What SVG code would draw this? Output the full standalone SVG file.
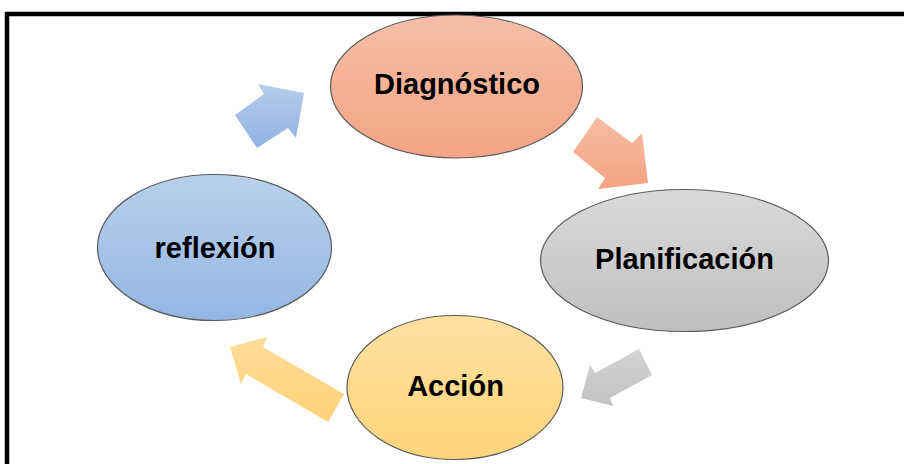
<svg xmlns="http://www.w3.org/2000/svg" width="904" height="464" viewBox="0 0 904 464">
  <defs>
    <linearGradient id="gSalmon" x1="0" y1="0" x2="0" y2="1">
      <stop offset="0" stop-color="#f5bea7"/>
      <stop offset="1" stop-color="#f4a485"/>
    </linearGradient>
    <linearGradient id="gGrey" x1="0" y1="0" x2="0" y2="1">
      <stop offset="0" stop-color="#dadada"/>
      <stop offset="1" stop-color="#bfbfbf"/>
    </linearGradient>
    <linearGradient id="gBlue" x1="0" y1="0" x2="0" y2="1">
      <stop offset="0" stop-color="#b9d0ec"/>
      <stop offset="1" stop-color="#93b7e3"/>
    </linearGradient>
    <linearGradient id="gYellow" x1="0" y1="0" x2="0" y2="1">
      <stop offset="0" stop-color="#ffe1a0"/>
      <stop offset="1" stop-color="#ffd47b"/>
    </linearGradient>
    <linearGradient id="aBlue" x1="0" y1="0" x2="0" y2="1">
      <stop offset="0" stop-color="#b6cdeb"/>
      <stop offset="1" stop-color="#8fb3e2"/>
    </linearGradient>
    <linearGradient id="aSalmon" x1="0" y1="0" x2="0" y2="1">
      <stop offset="0" stop-color="#f6bda5"/>
      <stop offset="1" stop-color="#f5a283"/>
    </linearGradient>
    <linearGradient id="aGrey" x1="0" y1="0" x2="0" y2="1">
      <stop offset="0" stop-color="#d4d4d4"/>
      <stop offset="1" stop-color="#c2c2c2"/>
    </linearGradient>
    <linearGradient id="aYellow" x1="0" y1="0" x2="0" y2="1">
      <stop offset="0" stop-color="#ffdc98"/>
      <stop offset="1" stop-color="#ffd27a"/>
    </linearGradient>
  </defs>
  <style>
    .node ellipse { stroke: #5a5a5a; stroke-width: 1.2; }
    .node text { font-family: "Liberation Sans", Arial, sans-serif; font-weight: bold; font-size: 29px; fill: #000; text-anchor: middle; }
  </style>

  <rect width="904" height="464" fill="#ffffff"/>
  <!-- outer frame (continues past the right and bottom edges) -->
  <rect x="7" y="14" width="1000" height="1000" fill="none" stroke="#000" stroke-width="4.5"/>

  <!-- block arrows of the cycle -->
  <g id="connectors">
    <polygon fill="url(#aBlue)" points="235,115 264,94 258,84 304,93 296,138 288,128 257,148"/>
    <polygon fill="url(#aSalmon)" points="597,117 632,143 642,133 648,183 598,189 605,178 573,152"/>
    <polygon fill="url(#aGrey)" points="639,349 652,375 610,398 613,406 581,398 590,365 595,373"/>
    <polygon fill="url(#aYellow)" points="267,337 263,347 344,394 328,422 246,374 241,384 230,347"/>
  </g>

  <g id="diagnostico" class="node">
    <ellipse cx="456.5" cy="86.5" rx="126" ry="71.5" fill="url(#gSalmon)"/>
    <text x="457" y="93.5">Diagnóstico</text>
  </g>
  <g id="planificacion" class="node">
    <ellipse cx="684.5" cy="260.5" rx="144" ry="71" fill="url(#gGrey)"/>
    <text x="684.5" y="268.5">Planificación</text>
  </g>
  <g id="accion" class="node">
    <ellipse cx="455" cy="387.5" rx="108" ry="72" fill="url(#gYellow)"/>
    <text x="455.5" y="395.5">Acción</text>
  </g>
  <g id="reflexion" class="node">
    <ellipse cx="214.5" cy="247.5" rx="117" ry="73" fill="url(#gBlue)"/>
    <text x="215" y="257.5">reflexión</text>
  </g>
</svg>
